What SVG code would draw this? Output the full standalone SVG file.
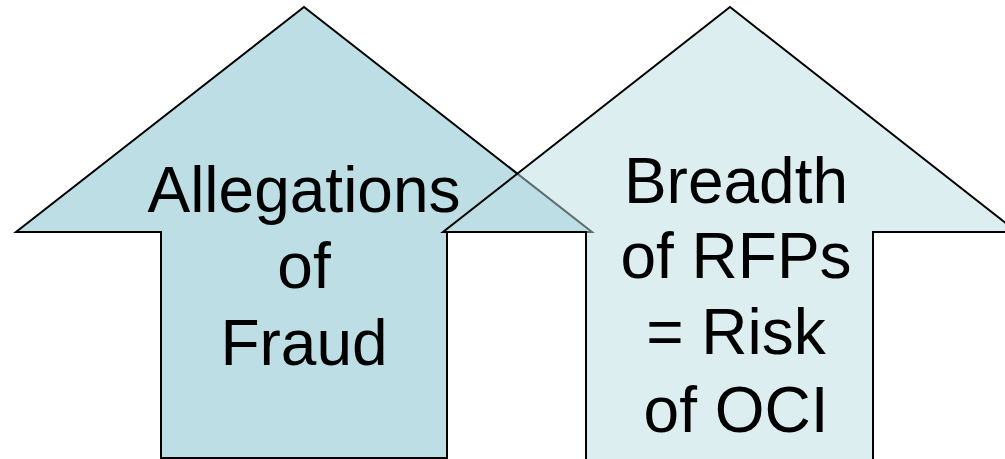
<svg xmlns="http://www.w3.org/2000/svg" width="1005" height="459" viewBox="0 0 1005 459">
<style>
.arrow{stroke:#000;stroke-width:2;stroke-linejoin:miter}
.lbl{font-family:"Liberation Sans",Arial,sans-serif;font-size:64px;fill:#000;text-anchor:middle}
</style>
<rect width="1005" height="459" fill="#fff"/>
<g id="fraud">
<polygon class="arrow" fill="#BCDEE4" points="304,7 592,232 447,232 447,458 161,458 161,232 16,232"/>
<text class="lbl" x="304" y="212">Allegations</text>
<text class="lbl" x="304" y="288">of</text>
<text class="lbl" x="304" y="365">Fraud</text>
</g>
<g id="rfps">
<polygon class="arrow" fill="#BCDEE4" fill-opacity="0.5" points="730,7 1017,232 873,232 873,460 586,460 586,232 443,232"/>
<text class="lbl" x="736" y="203">Breadth</text>
<text class="lbl" x="736" y="278">of RFPs</text>
<text class="lbl" x="736" y="354">= Risk</text>
<text class="lbl" x="736" y="432">of OCI</text>
</g>
<g id="connectors"/>
</svg>
